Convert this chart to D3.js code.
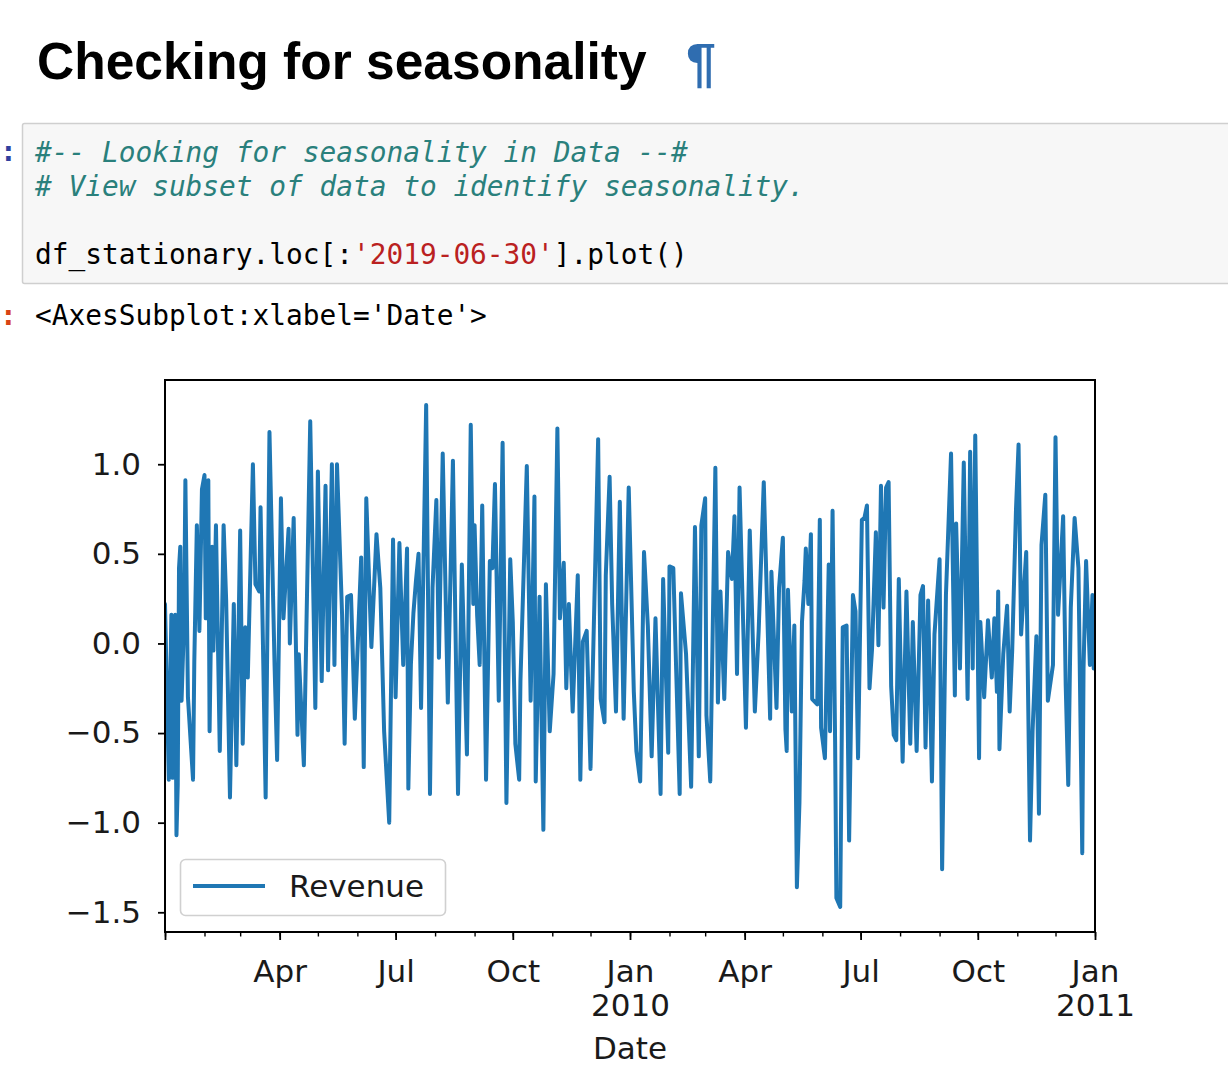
<!DOCTYPE html>
<html>
<head>
<meta charset="utf-8">
<script src="https://cdn.jsdelivr.net/npm/d3@7"></script>
<style>
  html, body { margin: 0; padding: 0; background: #fff; }
  svg { display: block; }
</style>
</head>
<body>
<svg id="page" width="1228" height="1092"></svg>
<script>
// ---------------- data ----------------
const dates = [
  "2009-01-01","2009-01-04","2009-01-06","2009-01-07","2009-01-09","2009-01-10","2009-01-11","2009-01-12","2009-01-13","2009-01-14",
  "2009-01-16","2009-01-17","2009-01-19","2009-01-23","2009-01-24","2009-01-26","2009-01-28","2009-01-30","2009-02-01","2009-02-02",
  "2009-02-04","2009-02-05","2009-02-07","2009-02-08","2009-02-10","2009-02-13","2009-02-16","2009-02-18","2009-02-21","2009-02-24",
  "2009-02-26","2009-03-01","2009-03-03","2009-03-05","2009-03-07","2009-03-11","2009-03-13","2009-03-16","2009-03-17","2009-03-21",
  "2009-03-24","2009-03-28","2009-03-30","2009-04-02","2009-04-04","2009-04-08","2009-04-09","2009-04-12","2009-04-15","2009-04-16",
  "2009-04-20","2009-04-22","2009-04-25","2009-04-29","2009-05-01","2009-05-04","2009-05-07","2009-05-09","2009-05-12","2009-05-14",
  "2009-05-16","2009-05-20","2009-05-22","2009-05-24","2009-05-27","2009-05-30","2009-06-04","2009-06-06","2009-06-08","2009-06-12",
  "2009-06-16","2009-06-19","2009-06-22","2009-06-26","2009-06-29","2009-07-01","2009-07-04","2009-07-07","2009-07-10","2009-07-11",
  "2009-07-13","2009-07-15","2009-07-17","2009-07-19","2009-07-21","2009-07-25","2009-07-28","2009-07-30","2009-08-02","2009-08-04",
  "2009-08-07","2009-08-11","2009-08-15","2009-08-19","2009-08-22","2009-08-26","2009-08-29","2009-08-31","2009-09-01","2009-09-03",
  "2009-09-05","2009-09-07","2009-09-10","2009-09-13","2009-09-15","2009-09-17","2009-09-20","2009-09-23","2009-09-26","2009-09-29",
  "2009-10-01","2009-10-03","2009-10-06","2009-10-07","2009-10-12","2009-10-15","2009-10-18","2009-10-19","2009-10-22","2009-10-25",
  "2009-10-27","2009-10-30","2009-11-02","2009-11-05","2009-11-07","2009-11-10","2009-11-12","2009-11-14","2009-11-17","2009-11-21",
  "2009-11-23","2009-11-25","2009-11-28","2009-12-01","2009-12-04","2009-12-07","2009-12-09","2009-12-12","2009-12-13","2009-12-16",
  "2009-12-18","2009-12-21","2009-12-24","2009-12-27","2009-12-31",
  "2010-01-04","2010-01-06","2010-01-09","2010-01-12","2010-01-15","2010-01-18","2010-01-21","2010-01-25","2010-01-27","2010-01-31",
  "2010-02-01","2010-02-04","2010-02-09","2010-02-10","2010-02-14","2010-02-18","2010-02-21","2010-02-24","2010-02-26","2010-03-01",
  "2010-03-02","2010-03-05","2010-03-09","2010-03-11","2010-03-13","2010-03-16","2010-03-19","2010-03-22","2010-03-24","2010-03-26",
  "2010-03-28","2010-04-02","2010-04-05","2010-04-09","2010-04-12","2010-04-16","2010-04-21","2010-04-22","2010-04-26","2010-04-28",
  "2010-05-01","2010-05-03","2010-05-04","2010-05-05","2010-05-08","2010-05-10","2010-05-12","2010-05-14","2010-05-16","2010-05-18",
  "2010-05-19","2010-05-21","2010-05-23","2010-05-24","2010-05-28","2010-05-30","2010-05-31","2010-06-03","2010-06-06","2010-06-07",
  "2010-06-09","2010-06-11","2010-06-12","2010-06-15","2010-06-17","2010-06-20","2010-06-22","2010-06-25","2010-06-27","2010-06-29",
  "2010-07-02","2010-07-04","2010-07-06","2010-07-08","2010-07-10","2010-07-13","2010-07-15","2010-07-17","2010-07-19","2010-07-21",
  "2010-07-23","2010-07-25","2010-07-27","2010-07-29","2010-07-31","2010-08-03","2010-08-06","2010-08-09","2010-08-11","2010-08-14",
  "2010-08-17","2010-08-19","2010-08-21","2010-08-23","2010-08-26","2010-08-28","2010-09-01","2010-09-03","2010-09-06","2010-09-10",
  "2010-09-13","2010-09-14","2010-09-17","2010-09-20","2010-09-23","2010-09-25","2010-09-27","2010-09-29","2010-10-02","2010-10-03",
  "2010-10-06","2010-10-09","2010-10-12","2010-10-14","2010-10-16","2010-10-17","2010-10-18","2010-10-21","2010-10-24","2010-10-26",
  "2010-10-28","2010-10-31","2010-11-02","2010-11-04","2010-11-08","2010-11-11","2010-11-13","2010-11-16","2010-11-18","2010-11-20",
  "2010-11-23","2010-11-25","2010-11-29","2010-12-01","2010-12-03","2010-12-07","2010-12-09","2010-12-11","2010-12-13","2010-12-16",
  "2010-12-19","2010-12-22","2010-12-23","2010-12-25","2010-12-28","2010-12-30","2010-12-31"
];

const revenue = [
  0.22,-0.76,0.16,-0.75,0.16,-1.07,-0.79,0.42,0.54,-0.32,
  0.14,0.91,-0.30,-0.76,-0.10,0.66,0.07,0.86,0.94,0.14,
  0.91,-0.49,0.54,-0.04,0.66,-0.60,0.66,0.24,-0.86,0.22,
  -0.68,0.63,-0.56,0.09,-0.19,1.00,0.33,0.29,0.76,-0.86,
  1.18,-0.12,-0.65,0.81,0.14,0.64,0.00,0.70,-0.51,-0.06,
  -0.68,0.09,1.24,-0.36,0.96,-0.21,0.88,-0.15,1.00,-0.12,
  1.00,0.16,-0.56,0.26,0.27,-0.42,0.48,-0.69,0.81,-0.02,
  0.61,0.31,-0.49,-1.00,0.58,-0.30,0.56,-0.12,0.53,-0.81,
  -0.12,0.17,0.35,0.50,-0.36,1.33,-0.84,0.31,0.80,-0.08,
  1.06,-0.33,1.02,-0.84,0.44,-0.62,1.22,0.22,0.66,0.16,
  -0.12,0.77,-0.76,0.46,0.42,0.89,-0.32,1.12,-0.89,0.47,
  0.12,-0.56,-0.76,-0.21,0.99,-0.32,0.82,-0.77,0.26,-1.04,
  0.33,-0.49,-0.17,1.20,0.14,0.45,-0.25,0.22,-0.38,0.38,
  -0.76,0.01,0.07,-0.70,0.22,1.14,-0.31,-0.44,0.38,0.93,
  0.22,-0.38,0.79,-0.42,0.87,
  -0.27,-0.60,-0.77,0.51,0.10,-0.63,0.14,-0.84,0.36,-0.61,
  0.43,0.42,-0.84,0.28,-0.06,-0.80,0.65,-0.63,0.66,0.81,
  -0.40,-0.77,0.98,-0.33,0.29,-0.31,0.51,0.36,0.71,-0.17,
  0.87,-0.47,0.63,-0.38,0.07,0.90,-0.42,0.40,-0.36,0.31,
  0.59,-0.48,-0.60,0.30,-0.38,0.10,-1.36,-0.89,0.12,0.35,
  0.53,0.22,0.61,-0.31,-0.34,0.69,-0.47,-0.64,0.44,-0.49,
  0.74,-0.55,-1.42,-1.47,0.09,0.10,-1.10,0.27,0.18,-0.64,
  0.69,0.70,0.77,-0.25,-0.03,0.62,-0.01,0.88,0.20,0.87,
  0.90,-0.24,-0.51,-0.54,0.36,-0.66,0.29,-0.56,0.12,-0.60,
  0.27,0.32,-0.58,0.24,-0.77,0.05,0.47,-1.26,0.27,1.06,
  -0.29,0.67,-0.14,1.01,-0.31,1.07,-0.14,1.16,-0.64,0.12,
  -0.30,0.13,-0.19,0.14,-0.27,0.29,-0.59,-0.06,0.21,-0.38,
  -0.04,0.75,1.11,0.05,0.51,-1.10,-0.49,0.04,-0.95,0.55,
  0.83,-0.32,-0.12,1.15,0.16,0.71,-0.23,-0.79,0.20,0.70,
  0.42,-1.17,-0.14,0.46,-0.12,0.27,-0.14
];

const seriesName = "Revenue";
const xDomainDates = ["2009-01-01", "2011-01-01"];
const yTicks = [-1.5, -1.0, -0.5, 0.0, 0.5, 1.0];
const xMajorTickDates = ["2009-01-01","2009-04-01","2009-07-01","2009-10-01","2010-01-01","2010-04-01","2010-07-01","2010-10-01","2011-01-01"];
const xMajorTickLabels = ["", "Apr", "Jul", "Oct", "Jan\n2010", "Apr", "Jul", "Oct", "Jan\n2011"];
const xLabel = "Date";

const titleText = "Checking for seasonality";
const codeLines = [
  [{t: "#-- Looking for seasonality in Data --#", c: "comment"}],
  [{t: "# View subset of data to identify seasonality.", c: "comment"}],
  [],
  [{t: "df_stationary.loc[:", c: "plain"}, {t: "'2019-06-30'", c: "string"}, {t: "].plot()", c: "plain"}]
];
const outputText = "<AxesSubplot:xlabel='Date'>";

// ---------------- drawing ----------------
const parse = d3.utcParse("%Y-%m-%d");
const data = dates.map((d, i) => ({date: parse(d), value: revenue[i]}));

const svg = d3.select("#page");
const mono = "'DejaVu Sans Mono', monospace";
const sans = "'DejaVu Sans', sans-serif";

// Title
svg.append("text")
  .attr("x", 37).attr("y", 79)
  .attr("font-family", "'Liberation Sans', Arial, sans-serif")
  .attr("font-weight", "bold").attr("font-size", 51.5)
  .attr("fill", "#000")
  .text(titleText);
svg.append("text")
  .attr("x", 686).attr("y", 81)
  .attr("font-family", "'Liberation Sans', Arial, sans-serif")
  .attr("font-weight", "bold").attr("font-size", 54)
  .attr("fill", "#2f6db0")
  .text("\u00B6");

// Input prompt & code cell
svg.append("text").attr("x", 0).attr("y", 161)
  .attr("font-family", mono).attr("font-size", 27.8).attr("font-weight", "bold")
  .attr("fill", "#303F9F").text(":");
svg.append("rect")
  .attr("x", 22.5).attr("y", 123.5).attr("width", 1220).attr("height", 160)
  .attr("rx", 2).attr("fill", "#f7f7f7").attr("stroke", "#cfcfcf").attr("stroke-width", 1.5);

const colors = {comment: "#2a807c", plain: "#000", string: "#BA2121"};
codeLines.forEach((line, i) => {
  if (!line.length) return;
  const t = svg.append("text")
    .attr("x", 35).attr("y", 162 + i * 34)
    .attr("font-family", mono).attr("font-size", 27.8)
    .attr("xml:space", "preserve");
  line.forEach(seg => {
    t.append("tspan")
      .attr("fill", colors[seg.c])
      .attr("font-style", seg.c === "comment" ? "italic" : "normal")
      .text(seg.t);
  });
});

// Output prompt & text
svg.append("text").attr("x", 0).attr("y", 325)
  .attr("font-family", mono).attr("font-size", 27.8).attr("font-weight", "bold")
  .attr("fill", "#D84315").text(":");
svg.append("text").attr("x", 35).attr("y", 325)
  .attr("font-family", mono).attr("font-size", 27.8)
  .attr("fill", "#000").text(outputText);

// Chart
const plot = {left: 165, right: 1095, top: 380, bottom: 932};
const x = d3.scaleUtc()
  .domain(xDomainDates.map(parse))
  .range([plot.left, plot.right]);
const ext = d3.extent(revenue);
const pad = (ext[1] - ext[0]) * 0.05;
const y = d3.scaleLinear()
  .domain([ext[0] - pad, ext[1] + pad])
  .range([plot.bottom, plot.top]);

svg.append("defs").append("clipPath").attr("id", "clip")
  .append("rect").attr("x", plot.left).attr("y", plot.top)
  .attr("width", plot.right - plot.left).attr("height", plot.bottom - plot.top);

const line = d3.line().x(d => x(d.date)).y(d => y(d.value));
svg.append("path")
  .datum(data)
  .attr("clip-path", "url(#clip)")
  .attr("fill", "none")
  .attr("stroke", "#1f77b4")
  .attr("stroke-width", 4)
  .attr("stroke-linejoin", "round")
  .attr("stroke-linecap", "round")
  .attr("d", line);

// Frame
svg.append("rect")
  .attr("x", plot.left).attr("y", plot.top)
  .attr("width", plot.right - plot.left).attr("height", plot.bottom - plot.top)
  .attr("fill", "none").attr("stroke", "#000").attr("stroke-width", 2);

// Y axis
const yAxis = d3.axisLeft(y)
  .tickValues(yTicks)
  .tickSize(7).tickPadding(17)
  .tickFormat(d => d3.format(".1f")(d).replace("-", "\u2212"));
const gy = svg.append("g").attr("transform", `translate(${plot.left},0)`).call(yAxis);
gy.select(".domain").remove();
gy.selectAll(".tick line").attr("stroke", "#000").attr("stroke-width", 1.8);
gy.selectAll(".tick text").attr("font-family", sans).attr("font-size", 31).attr("fill", "#1a1a1a");

// X axis minor ticks (monthly)
const xMinor = d3.axisBottom(x)
  .ticks(d3.utcMonth.every(1))
  .tickSize(4.5).tickFormat("");
const gxm = svg.append("g").attr("transform", `translate(0,${plot.bottom})`).call(xMinor);
gxm.select(".domain").remove();
gxm.selectAll(".tick line").attr("stroke", "#000").attr("stroke-width", 1.4);

// X axis major ticks
const xMajor = d3.axisBottom(x)
  .tickValues(xMajorTickDates.map(parse))
  .tickSize(8).tickPadding(20)
  .tickFormat((d, i) => xMajorTickLabels[i]);
const gx = svg.append("g").attr("transform", `translate(0,${plot.bottom})`).call(xMajor);
gx.select(".domain").remove();
gx.selectAll(".tick line").attr("stroke", "#000").attr("stroke-width", 1.8);
gx.selectAll(".tick text")
  .attr("font-family", sans).attr("font-size", 31).attr("fill", "#1a1a1a")
  .each(function() {
    const el = d3.select(this);
    const parts = el.text().split("\n");
    if (parts.length > 1) {
      el.text(null);
      parts.forEach((p, k) => {
        el.append("tspan").attr("x", 0).attr("dy", k === 0 ? "0.71em" : "1.1em").text(p);
      });
      el.attr("dy", null);
    }
  });

// X label
svg.append("text")
  .attr("x", (plot.left + plot.right) / 2).attr("y", 1059)
  .attr("text-anchor", "middle")
  .attr("font-family", sans).attr("font-size", 31).attr("fill", "#1a1a1a")
  .text(xLabel);

// Legend
const lg = svg.append("g");
lg.append("rect")
  .attr("x", 180.5).attr("y", 859.5).attr("width", 265).attr("height", 56)
  .attr("rx", 5).attr("fill", "#fff").attr("fill-opacity", 0.8)
  .attr("stroke", "#d0d0d0").attr("stroke-width", 1.6);
lg.append("line")
  .attr("x1", 193).attr("x2", 265).attr("y1", 886).attr("y2", 886)
  .attr("stroke", "#1f77b4").attr("stroke-width", 4);
lg.append("text")
  .attr("x", 289).attr("y", 897)
  .attr("font-family", sans).attr("font-size", 31).attr("fill", "#1a1a1a")
  .text(seriesName);
</script>
</body>
</html>
